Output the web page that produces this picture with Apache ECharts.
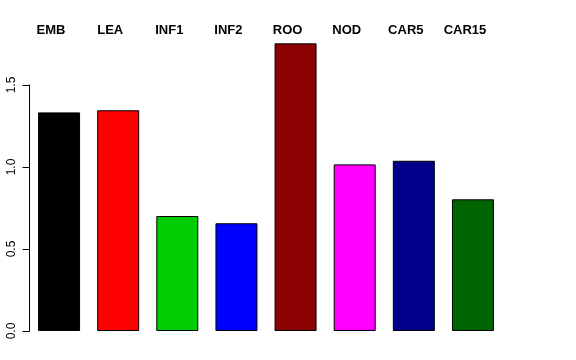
<!DOCTYPE html>
<html><head><meta charset="utf-8">
<script src="https://cdn.jsdelivr.net/npm/echarts@6/dist/echarts.min.js"></script>
<style>html,body{margin:0;padding:0;background:#fff}#c{width:576px;height:360px}</style>
</head><body><div id="c"></div>
<script>
var categories = ['EMB','LEA','INF1','INF2','ROO','NOD','CAR5','CAR15'];
var values = [1.333, 1.346, 0.701, 0.657, 1.754, 1.016, 1.038, 0.803];
var colors = ['#000000','#FF0000','#00CD00','#0000FF','#8B0000','#FF00FF','#00008B','#006400'];
var yTicks = ['0.0','0.5','1.0','1.5'];

var chart = echarts.init(document.getElementById('c'), null, {renderer:'canvas'});
chart.setOption({
  animation: false,
  backgroundColor: '#ffffff',
  grid: {left: 29.5, right: 73.5, top: 85, bottom: 29, containLabel: false},
  xAxis: {
    type: 'category', data: categories, position: 'top',
    axisLine: {show: false}, axisTick: {show: false},
    axisLabel: {margin: 48, fontFamily: 'Liberation Sans', fontWeight: 'bold', fontSize: 13, color: '#000', padding: [0, 16, 0, 0]}
  },
  yAxis: {
    type: 'value', min: 0, max: 1.5, interval: 0.5,
    splitLine: {show: false},
    axisLine: {show: true, lineStyle: {color: '#000', width: 1}},
    axisTick: {show: true, length: 7, lineStyle: {color: '#000'}},
    axisLabel: {rotate: 90, margin: 12, fontFamily: 'Liberation Sans', fontSize: 12, color: '#000',
      formatter: function(v){ var i = Math.round(v/0.5); return yTicks[i] !== undefined ? yTicks[i] : ''; }}
  },
  series: [{
    type: 'bar', clip: false, barWidth: 42,
    data: values.map(function(v, i){ return {value: v, itemStyle: {color: colors[i], borderColor: '#000', borderWidth: 1}}; })
  }]
});
</script></body></html>
